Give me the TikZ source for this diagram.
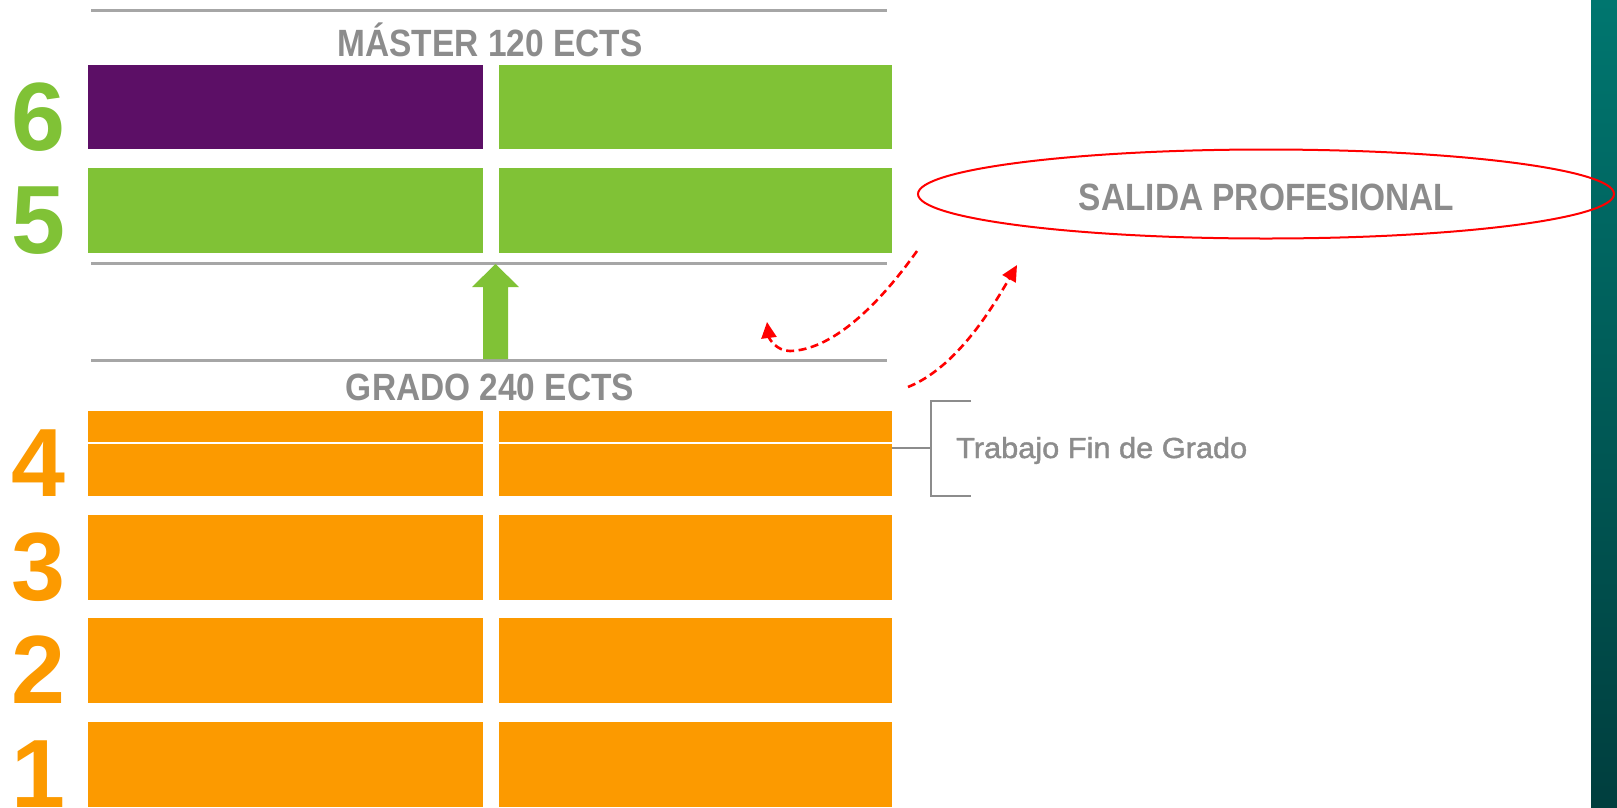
\documentclass[tikz,border=0pt]{standalone}
\usepackage{fontspec}
\setmainfont{Liberation Sans}
\newfontfamily\headfont[FakeStretch=0.88]{Liberation Sans}
\newfontfamily\tfgfont[FakeStretch=1.06,FakeBold=1.5]{Liberation Sans}
\usetikzlibrary{arrows.meta,shapes.geometric}
\definecolor{ugreen}{HTML}{80C236}
\definecolor{uorange}{HTML}{FC9A00}
\definecolor{upurple}{HTML}{5C0F66}
\definecolor{ugray}{HTML}{A6A6A6}
\definecolor{utext}{HTML}{8C8C8C}
\definecolor{tealtop}{HTML}{00766F}
\definecolor{tealbot}{HTML}{003E3E}
\begin{document}
\begin{tikzpicture}[x=1pt,y=-1pt,
  box/.style={rectangle,draw=none,inner sep=0pt,outer sep=0pt,anchor=north west,minimum height=85pt},
  lbox/.style={box,minimum width=395pt},
  rbox/.style={box,minimum width=393pt},
  digit/.style={font=\fontsize{97}{97}\selectfont\bfseries,anchor=base,inner sep=0pt},
  head/.style={font=\headfont\bfseries\fontsize{38}{38}\selectfont,text=utext,anchor=base,inner sep=0pt},
  gline/.style={draw=ugray,line width=3pt},
  bline/.style={draw=utext,line width=2pt},
  redarrow/.style={draw=red,line width=2.6pt,dash pattern=on 8pt off 4.5pt,-{Triangle[length=16pt,width=15pt]}}]
\useasboundingbox (0,0) rectangle (1617,807);
\fill[white] (0,0) rectangle (1617,807);
% teal bar
\shade[top color=tealtop,bottom color=tealbot] (1591,0) rectangle (1617,807);
% rows
\node[lbox,fill=upurple,minimum height=84pt] (r6l) at (88,65) {};
\node[rbox,fill=ugreen,minimum height=84pt] (r6r) at (499,65) {};
\node[lbox,fill=ugreen] (r5l) at (88,168) {};
\node[rbox,fill=ugreen] (r5r) at (499,168) {};
\node[lbox,fill=uorange] (r4l) at (88,411) {};
\node[rbox,fill=uorange] (r4r) at (499,411) {};
\node[lbox,fill=uorange] (r3l) at (88,515) {};
\node[rbox,fill=uorange] (r3r) at (499,515) {};
\node[lbox,fill=uorange] (r2l) at (88,618) {};
\node[rbox,fill=uorange] (r2r) at (499,618) {};
\node[lbox,fill=uorange] (r1l) at (88,722) {};
\node[rbox,fill=uorange] (r1r) at (499,722) {};
\draw[white,line width=1.5pt] (88,443) -- (483,443) (499,443) -- (892,443);
% digits
\node[digit,text=ugreen] (n6) at (38,150) {6};
\node[digit,text=ugreen] (n5) at (38,253) {5};
\node[digit,text=uorange] (n4) at (38,496) {4};
\node[digit,text=uorange] (n3) at (38,600) {3};
\node[digit,text=uorange] (n2) at (38,703) {2};
\node[digit,text=uorange] (n1) at (38,807) {1};
% gray lines
\draw[gline] (91,10.5) -- (887,10.5);
\draw[gline] (91,263) -- (887,263);
\draw[gline] (91,360) -- (887,360);
% headings
\node[head] (master) at (490,56) {MÁSTER 120 ECTS};
\node[head] (grado) at (490,400) {GRADO 240 ECTS};
% green arrow
\fill[ugreen] (483,359) -- (483,287) -- (472,287) -- (495.5,264) -- (519,287) -- (508,287) -- (508,359) -- cycle;
% salida profesional
\node[draw=red,line width=2pt,ellipse,minimum width=696pt,minimum height=89pt,inner sep=0pt] (salida) at (1266,194) {};
\node[head] (salidatxt) at (1266.5,210) {SALIDA PROFESIONAL};
% dashed arrows
\coordinate (a1s) at (917,251);
\coordinate (a1m) at (790,351);
\coordinate (a1e) at (767,322);
\draw[redarrow] (a1s) .. controls (875,310) and (830,350) .. (a1m) .. controls (776,351) and (769,338) .. (a1e);
\coordinate (a2s) at (908,387);
\coordinate (a2e) at (1017,265);
\draw[redarrow] (a2s) .. controls (955,368) and (990,312) .. (a2e);
% trabajo fin de grado bracket
\coordinate (tfgs) at (892,448);
\coordinate (tfgb) at (931,448);
\draw[bline] (tfgs) -- (tfgb);
\draw[bline] (971,401) -- (931,401) -- (931,496) -- (971,496);
\node[font=\tfgfont\fontsize{29}{29}\selectfont,text=utext,anchor=base west,inner sep=0pt] (tfg) at (956,458) {Trabajo Fin de Grado};
\end{tikzpicture}
\end{document}
